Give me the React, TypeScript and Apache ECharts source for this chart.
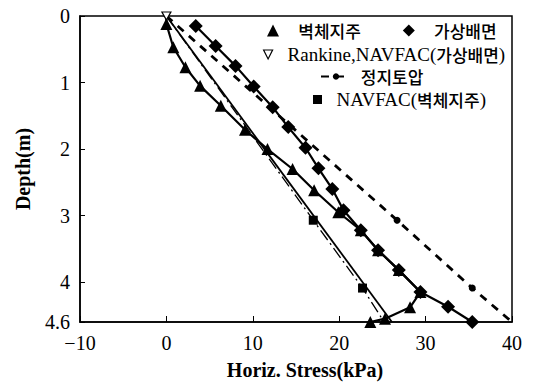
import React, { useEffect, useRef } from "react";
import * as echarts from "echarts";

// 벽체지주 (measured, wall strut)
const wallStress = [0, 0.0, 0.8, 2.2, 3.9, 6.3, 9.1, 11.7, 14.6, 17.1, 19.9, 22.5, 24.5, 26.9, 29.4, 28.2, 25.3, 23.6];
const wallDepth = [0, 0.12, 0.47, 0.77, 1.05, 1.35, 1.71, 2.0, 2.3, 2.62, 2.95, 3.22, 3.52, 3.82, 4.15, 4.38, 4.55, 4.6];
// 가상배면 (measured, virtual back face)
const virtStress = [3.4, 5.7, 8.0, 10.1, 12.3, 14.1, 16.1, 17.6, 19.2, 20.5, 22.5, 24.5, 26.9, 29.4, 32.6, 35.4];
const virtDepth = [0.15, 0.45, 0.75, 1.06, 1.37, 1.67, 1.98, 2.29, 2.6, 2.92, 3.22, 3.52, 3.82, 4.15, 4.37, 4.6];
// Rankine, NAVFAC(가상배면)
const rankineStress = [0, 26.1];
const rankineDepth = [0, 4.6];
// 정지토압 (at-rest)
const restStress = [0, 26.7, 35.4, 40];
const restDepth = [0, 3.07, 4.09, 4.6];
// NAVFAC(벽체지주)
const navStress = [0, 17.0, 22.7, 25.2];
const navDepth = [0, 3.07, 4.09, 4.6];

const xTicks = [-10, 0, 10, 20, 30, 40];
const yTicks = [0, 1, 2, 3, 4, 4.6];

const names = ["벽체지주", "가상배면", "Rankine,NAVFAC(가상배면)", "정지토압", "NAVFAC(벽체지주)"];

const FONT = "'Liberation Serif', 'DejaVu Serif', 'Noto Sans CJK KR', serif";
const openTri = "path://M0,0L10,0L5,10Z";

const zip = (xs: number[], ys: number[]) => xs.map((x, i) => [x, ys[i]]);

const legendText = {
  fontFamily: FONT,
  fontSize: 19,
  lineHeight: 18,
  color: "#000",
  rich: {
    k: { fontFamily: "'Noto Sans CJK KR', sans-serif", fontSize: 17, lineHeight: 18, color: "#000", fontWeight: 500 },
  },
};
const fmt = (pad: string) => (name: string) => pad + name.replace(/([\uAC00-\uD7A3]+)/g, "{k|$1}");

export default function App() {
  const ref = useRef<HTMLDivElement>(null);
  useEffect(() => {
    if (!ref.current) return;
    const chart = echarts.init(ref.current, null, { renderer: "svg" });
    chart.setOption({
      animation: false,
      backgroundColor: "#fff",
      grid: { left: 80, right: 23, top: 16, bottom: 66, show: true, borderColor: "#000", borderWidth: 1.5, backgroundColor: "transparent" },
      xAxis: {
        type: "value",
        min: -10,
        max: 40,
        interval: 10,
        name: "Horiz. Stress(kPa)",
        nameLocation: "middle",
        nameGap: 38,
        nameTextStyle: { fontFamily: FONT, fontSize: 20, color: "#000", fontWeight: "bold", padding: [0, 0, 0, 18], verticalAlign: "top" },
        axisLine: { onZero: false, lineStyle: { color: "#000", width: 1.5 } },
        axisTick: { inside: true, length: 6, lineStyle: { color: "#000" }, customValues: xTicks },
        axisLabel: {
          fontFamily: FONT,
          fontSize: 20,
          color: "#000",
          margin: 11,
          customValues: xTicks,
          formatter: (v: number) => (v < 0 ? "\u2212" + Math.abs(v) : String(v)),
        },
        splitLine: { show: false },
      },
      yAxis: {
        type: "value",
        inverse: true,
        min: 0,
        max: 4.6,
        interval: 1,
        name: "Depth(m)",
        nameLocation: "middle",
        nameGap: 47,
        nameRotate: 90,
        nameTextStyle: { fontFamily: FONT, fontSize: 20, color: "#000", fontWeight: "bold" },
        axisLine: { onZero: false, lineStyle: { color: "#000", width: 1.5 } },
        axisTick: { inside: true, length: 5, lineStyle: { color: "#000" }, customValues: yTicks },
        axisLabel: { fontFamily: FONT, fontSize: 20, color: "#000", margin: 10, customValues: yTicks },
        splitLine: { show: false },
      },
      legend: [
        {
          data: [
            { name: names[0], icon: "triangle" },
            { name: names[1], icon: "diamond" },
          ],
          left: 267,
          top: 21,
          padding: 0,
          itemWidth: 12,
          itemHeight: 12,
          itemGap: 42,
          formatter: fmt("   "),
          textStyle: legendText,
        },
        {
          data: [{ name: names[2], icon: openTri, itemStyle: { color: "#fff", borderColor: "#000", borderWidth: 1.2 } }],
          left: 263,
          top: 45,
          padding: 0,
          itemWidth: 10,
          itemHeight: 9,
          formatter: fmt("  "),
          textStyle: legendText,
        },
        {
          data: [names[3]],
          left: 320,
          top: 67,
          padding: 0,
          itemWidth: 30,
          itemHeight: 8,
          formatter: fmt(" "),
          textStyle: legendText,
        },
        {
          data: [{ name: names[4], icon: "rect" }],
          left: 313,
          top: 90,
          padding: 0,
          itemWidth: 9,
          itemHeight: 9,
          formatter: fmt("  "),
          textStyle: legendText,
        },
      ],
      series: [
        {
          name: names[0],
          type: "line",
          data: zip(wallStress, wallDepth).map((p, i) => (i === 0 ? { value: p, symbol: "none" } : p)),
          symbol: "triangle",
          symbolSize: 12,
          color: "#000",
          lineStyle: { color: "#000", width: 2.2 },
          z: 5,
        },
        {
          name: names[1],
          type: "line",
          data: zip(virtStress, virtDepth),
          symbol: "diamond",
          symbolSize: 14,
          color: "#000",
          lineStyle: { color: "#000", width: 2.2 },
          z: 5,
        },
        {
          name: names[2],
          type: "line",
          data: zip(rankineStress, rankineDepth).map((p, i) => (i === 0 ? p : { value: p, symbol: "none" })),
          symbol: openTri,
          symbolSize: [9, 8],
          itemStyle: { color: "#fff", borderColor: "#000", borderWidth: 1.2 },
          lineStyle: { color: "#000", width: 1.8 },
          z: 6,
        },
        {
          name: names[3],
          type: "line",
          data: zip(restStress, restDepth).map((p, i, a) => (i === 0 || i === a.length - 1 ? { value: p, symbol: "none" } : p)),
          symbol: "circle",
          symbolSize: 7,
          color: "#000",
          lineStyle: { color: "#000", width: 2.8, type: [8, 7] },
          z: 4,
        },
        {
          name: names[4],
          type: "line",
          data: zip(navStress, navDepth).map((p, i, a) => (i === 0 || i === a.length - 1 ? { value: p, symbol: "none" } : p)),
          symbol: "rect",
          symbolSize: 9,
          color: "#000",
          lineStyle: { color: "#000", width: 1.3, type: [12, 4, 2, 4] },
          z: 4,
        },
      ],
    });
    return () => chart.dispose();
  }, []);
  return <div ref={ref} style={{ position: "fixed", left: 0, top: 0, width: 535, height: 388 }} />;
}
